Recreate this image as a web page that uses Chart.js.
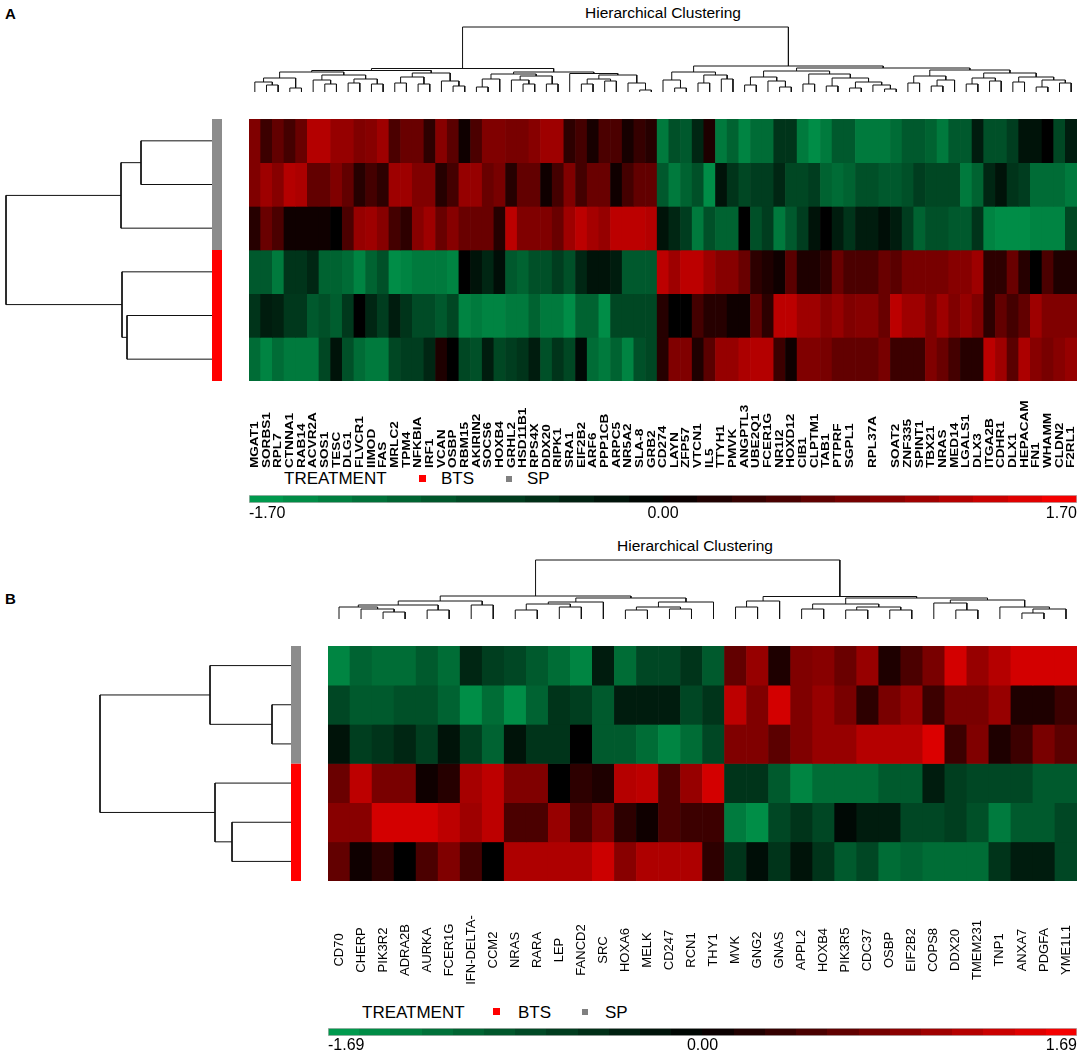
<!DOCTYPE html>
<html>
<head>
<meta charset="utf-8">
<title>Hierarchical Clustering</title>
<script src="https://cdn.jsdelivr.net/npm/chart.js@4.4.0/dist/chart.umd.min.js"></script>
<style>
    body { margin: 0; background: #fff; width: 1084px; height: 1057px; position: relative; overflow: hidden;
           font-family: "Liberation Sans", Arial, sans-serif; color: #000; }
    .box { position: absolute; }
    .txt { position: absolute; white-space: nowrap; line-height: 1; }
    .sq { position: absolute; }
</style>
</head>
<body>
<div class="txt" style="left:5px;top:6px;font-size:15px;font-weight:bold">A</div>
<div class="txt" style="left:663px;top:5px;font-size:15.5px;transform:translateX(-50%)">Hierarchical Clustering</div>
<div class="txt" style="left:284px;top:470px;font-size:17px">TREATMENT</div>
<div class="sq" style="left:419px;top:475px;width:7px;height:7px;background:#ff0000"></div>
<div class="txt" style="left:441px;top:470px;font-size:17px">BTS</div>
<div class="sq" style="left:506px;top:476px;width:6px;height:6px;background:#808080"></div>
<div class="txt" style="left:527px;top:470px;font-size:17px">SP</div>

<div class="txt" style="left:5px;top:591px;font-size:15px;font-weight:bold">B</div>
<div class="txt" style="left:695px;top:538px;font-size:15.5px;transform:translateX(-50%)">Hierarchical Clustering</div>
<div class="txt" style="left:362px;top:1004px;font-size:17px">TREATMENT</div>
<div class="sq" style="left:493px;top:1008px;width:7px;height:7px;background:#ff0000"></div>
<div class="txt" style="left:518px;top:1004px;font-size:17px">BTS</div>
<div class="sq" style="left:582px;top:1009px;width:6px;height:6px;background:#808080"></div>
<div class="txt" style="left:605px;top:1004px;font-size:17px">SP</div>

<script>
// ---------- panel A data ----------
const genesA = ['MGAT1', 'SORBS1', 'RPL7', 'CTNNA1', 'RAB14', 'ACVR2A', 'SOS1', 'TESC', 'DLG1', 'FLVCR1',
    'IIMOD', 'FAS', 'MRLC2', 'TPM4', 'NFKBIA', 'IRF1', 'VCAN', 'OSBP', 'RBM15', 'AKIRIN2',
    'SOCS6', 'HOXB4', 'GRHL2', 'HSD11B1', 'RPS4X', 'DDX20', 'RIPK1', 'SRA1', 'EIF2B2', 'ARF6',
    'PPP1CB', 'ARPC5', 'NR5A2', 'SLA-8', 'GRB2', 'CD274', 'LAYN', 'ZFP57', 'VTCN1', 'IL5',
    'TTYH1', 'PMVK', 'ANGPTL3', 'UBE2Q1', 'FCER1G', 'NR1I2', 'HOXD12', 'CIB1', 'CLPTM1', 'TAB1',
    'PTPRF', 'SGPL1', '', 'RPL37A', '', 'SOAT2', 'ZNF335', 'SPINT1', 'TBX21', 'NRAS',
    'MED14', 'LGALS1', 'DLX3', 'ITGA2B', 'CDHR1', 'DLX1', 'HEPACAM', 'FN1', 'WHAMM', 'CLDN2', 'F2RL1'];

const A_SP1 = [0.85, 0.4, 0.65, 0.45, 0.7, 1.2, 1.2, 1.0, 1.0, 0.85, 0.9, 1.05, 0.5, 0.7, 0.7, 0.3, 0.9, 0.6, 0.1, 0.5,
    0.85, 0.85, 0.8, 0.8, 0.9, 1.05, 1.05, 0.3, 0.45, 0.15, 0.5, 0.5, 0.15, 0.35, 0.25,
    -1.3, -0.85, -0.95, -0.4, 0.2, -1.3, -1.05, -1.4, -1.15, -1.15, -0.55, -0.55, -1.3, -1.5, -1.3, -0.95, -0.95, -1.3,
    -1.3, -1.3, -1.15, -0.95, -0.95, -1.05, -1.3, -0.95, -0.95, -0.3, -0.85, -0.85, -0.65, -0.2, -0.2, 0, -0.75, -0.3];
const A_SP2 = [0.85, 1.05, 0.9, 1.2, 1.15, 0.65, 0.65, 0.85, 0.65, 0.25, 0.45, 0.3, 1.05, 1.05, 0.85, 0.85, 0.25, 0.45, 1.0, 1.0,
    0.7, 0.8, 0.25, 0.65, 0.65, 0.1, 0.45, 0.85, 0.45, 0.7, 0.7, 0.1, 0.45, 0.65, 0.65,
    -0.95, -1.3, -1.05, -0.85, -1.5, -0.2, -0.55, -0.75, -0.65, -0.65, -0.4, -0.75, -0.75, -0.65, -1.05, -1.15, -1.05, -0.85,
    -0.85, -0.95, -0.95, -0.85, -0.65, -0.75, -0.75, -0.75, -1.3, -1.05, -0.4, -0.2, -0.55, -0.65, -1.15, -1.15, -1.15, -1.3];
const A_SP3 = [0.25, 0.7, 0.5, 0.1, 0.1, 0.1, 0.1, 0, 0.5, 1.0, 1.05, 0.9, 0.45, 0.3, 0.9, 1.05, 0.7, 0.9, 0.7, 0.7,
    0.7, 0.25, 1.25, 0.85, 0.85, 0.85, 0.7, 1.05, 1.25, 1.1, 1.0, 1.25, 1.25, 1.25, 1.2,
    -0.2, -0.4, -0.65, -1.3, -0.85, -1.05, -1.05, 0, -0.85, -0.65, -1.3, -0.95, -0.65, -0.2, 0, -0.3, -0.55, -0.3,
    -0.3, -0.15, -0.3, -0.65, -1.05, -0.85, -0.85, -0.95, -0.95, -0.55, -1.4, -1.5, -1.5, -1.5, -1.4, -1.4, -1.4, -0.75];
const A_BTS1 = [-0.95, -0.95, -1.3, -0.55, -0.55, -0.4, -1.05, -1.05, -1.15, -1.4, -1.05, -0.85, -1.5, -1.4, -1.3, -1.3, -1.3, -1.4, 0, -0.2,
    -0.4, -0.15, -0.95, -1.05, -0.85, -0.85, -0.65, -0.85, -0.4, -0.2, -0.2, -0.3, -0.95, -0.95, -0.95,
    1.25, 1.05, 1.25, 1.25, 1.05, 0.9, 0.9, 0.7, 0.3, 0.2, 0.1, 0.6, 0.2, 0.2, 0.3, 0.7, 0.5, 0.5,
    0.5, 0.7, 0.6, 0.8, 0.8, 0.8, 0.8, 0.9, 0.9, 1.05, 0.3, 0.3, 0.7, 0.25, 0, 0.5, 0.2, 0.2];
const A_BTS2 = [-0.55, -0.3, -0.35, -0.6, -0.6, -0.95, -0.85, -1.0, -0.6, 0, -0.4, -0.65, -0.3, -0.55, -0.8, -0.8, -0.95, -0.75, -1.4, -1.3,
    -1.4, -1.4, -1.3, -1.3, -1.05, -1.3, -1.3, -1.5, -1.05, -1.05, -1.5, -0.75, -0.75, -0.75, -0.75,
    0.25, 0, 0, 0.45, 0.25, 0.25, 0.1, 0.1, 0.65, 0.3, 1.25, 1.25, 1.05, 1.05, 0.9, 1.0, 0.85, 0.9,
    0.9, 0.7, 1.25, 1.05, 1.05, 0.85, 1.05, 0.85, 1.0, 0.85, 0.3, 0.65, 0.45, 0.65, 1.05, 0.85, 0.85, 0.85];
const A_BTS3 = [-1.15, -1.4, -1.15, -1.3, -1.3, -1.3, -0.75, -0.2, -0.85, -1.15, -1.3, -1.3, -0.75, -0.65, -0.65, -0.4, 0.2, 0, -0.75, -0.85,
    -0.3, -0.75, -0.65, -0.55, -0.3, -0.85, -0.55, -0.75, -0.1, -1.15, -1.3, -1.05, -1.4, -0.85, -0.75,
    0.25, 0.85, 0.85, 0.2, 0.6, 1.0, 1.0, 1.15, 1.2, 1.2, 0.4, 0.1, 0.85, 0.85, 0.8, 0.65, 0.65, 0.65,
    0.65, 0.8, 0.4, 0.4, 0.4, 0.85, 0.7, 0.45, 0.25, 0.25, 1.25, 1.05, 0.6, 1.15, 0.9, 0.8, 0.9, 1.0];

// dendrograms: [height, left, right], a number is a leaf index
const geneTreeA = [65,
    [23.5,
        [21.5,
            [20, [14, [10, 0, [7, 1, 2]], [4, 3, 4]], [17, [12, 5, [8, 6, 7]], [13, [9, 8, 9], [8, 10, 11]]]],
            [19, [15, [9, 12, 13], [8, 14, 15]], [11, 16, [6, 17, 18]]]],
        [20,
            [18, [13, [5, 19, 20], 21], [16, [12, 22, [8, 23, 24]], [8, 25, 26]]],
            [18.5, 27, [17, [13, [8, 28, 29], [11, 30, 31]], [9, 32, [2, 33, 34]]]]]],
    [26,
        [20, [12, 35, [4, 36, 37]], [17, [9, 38, 39], [13, 40, 41]]],
        [24,
            [21, [15, [7, 42, 43], [11, 44, [5, 45, 46]]],
                 [18, [8, 47, 48], [14, [6, 49, 50], [10, [4, 51, 52], [7, 53, [3, 54, 55]]]]]],
            [22, [16, [9, 56, 57], [12, [6, 58, 59], 60]],
                 [19, [14, [8, 61, 62], [11, 63, 64]], [15, [10, 65, 66], [12, [5, 67, 68], [9, 69, 70]]]]]]]];
const sampleTreeA = [206, [91, [71, 0, 1], 2], [90, 3, [85, 4, 5]]];
const ticksA = [-1.70, 0.00, 1.70];

// ---------- panel B data ----------
const genesB = ['CD70', 'CHERP', 'PIK3R2', 'ADRA2B', 'AURKA', 'FCER1G', 'IFN-DELTA-', 'CCM2', 'NRAS', 'RARA',
    'LEP', 'FANCD2', 'SRC', 'HOXA6', 'MELK', 'CD247', 'RCN1', 'THY1', 'MVK', 'GNG2',
    'GNAS', 'APPL2', 'HOXB4', 'PIK3R5', 'CDC37', 'OSBP', 'EIF2B2', 'COPS8', 'DDX20', 'TMEM231',
    'TNP1', 'ANXA7', 'PDGFA', 'YME1L1'];

const B_SP1 = [-1.4, -1.05, -1.15, -1.15, -0.95, -1.15, -0.4, -0.65, -0.75, -0.95, -1.15, -1.4, -0.3, -1.15, -0.75, -0.75, -0.55, -0.95,
    0.65, 1.0, 0.2, 0.85, 0.9, 0.7, 1.0, 0.2, 0.5, 0.8, 1.4, 1.0, 1.2, 1.4, 1.4, 1.4];
const B_SP2 = [-0.75, -0.95, -0.95, -0.85, -0.85, -1.05, -1.5, -1.15, -1.5, -1.05, -0.55, -0.65, -0.95, -0.3, -0.3, -0.3, -0.75, -0.55,
    1.25, 0.85, 1.4, 0.85, 1.0, 0.8, 0.3, 0.8, 1.0, 0.4, 0.8, 0.8, 1.0, 0.2, 0.2, 0.4];
const B_SP3 = [-0.2, -0.65, -0.55, -0.4, -0.65, -0.2, -0.65, -1.05, -0.2, -0.55, -0.55, 0, -0.95, -0.95, -1.15, -1.4, -1.15, -0.75,
    0.85, 0.85, 0.6, 0.85, 1.0, 1.0, 1.2, 1.2, 1.2, 1.45, 0.4, 0.85, 0.2, 0.4, 0.8, 0.6];
const B_BTS1 = [0.7, 1.25, 0.8, 0.8, 0.1, 0.25, 1.1, 1.25, 0.85, 0.85, 0, 0.3, 0.2, 1.2, 1.25, 0.5, 1.0, 1.4,
    -0.55, -0.55, -0.95, -1.4, -1.15, -1.15, -1.15, -0.95, -0.95, -0.3, -0.65, -0.75, -0.75, -0.75, -0.95, -0.95];
const B_BTS2 = [0.9, 0.9, 1.4, 1.4, 1.4, 1.25, 1.05, 1.25, 0.5, 0.5, 1.0, 0.5, 0.8, 0.3, 0.1, 0.5, 0.4, 0.4,
    -1.3, -1.5, -0.75, -0.55, -0.75, -0.1, -0.3, -0.3, -0.75, -0.75, -0.65, -0.85, -1.3, -0.95, -0.95, -0.75];
const B_BTS3 = [0.65, 0.1, 0.3, 0, 0.5, 0.85, 0.45, 0, 1.15, 1.15, 1.15, 1.15, 1.35, 0.9, 1.15, 1.15, 1.15, 0.3,
    -0.55, -0.15, -0.55, -0.2, -0.55, -0.95, -0.75, -1.15, -1.05, -1.15, -1.15, -1.15, -0.55, -0.3, -0.3, -0.75];

const geneTreeB = [59,
    [23,
        [18, [14, [12, 0, [10, 1, [7, 2, 3]]], [9, 4, 5]], [14, 6, 7]],
        [21, [17, [15, [9, 8, 9], [12, 10, 11]], 12], [17, [12, [9, 13, 14], [10, 15, 16]], 17]]],
    [22.5,
        [18, [12, 18, 19], 20],
        [21, [15, [10, 21, 22], [12, [9, 23, 24], [9, 25, 26]]],
             [19, [16, 27, [9, 28, 29]], [12, 30, [10, [6, 31, 32], 33]]]]]];
const sampleTreeB = [191, [81, 0, [19, 1, 2]], [76, 3, [59, 4, 5]]];
const ticksB = [-1.69, 0.00, 1.69];

const treatment = ['SP', 'SP', 'SP', 'BTS', 'BTS', 'BTS'];
const treatmentColor = { SP: '#8c8c8c', BTS: '#ff0000' };

// ---------- helpers ----------
Chart.defaults.font.family = '"Liberation Sans", Arial, sans-serif';
Chart.defaults.animation = false;

function cellColor(v, lim) {
    const t = Math.min(Math.abs(v) / lim, 1);
    return v >= 0 ? `rgb(${Math.round(255 * t)},0,0)` : `rgb(0,${Math.round(160 * t)},${Math.round(80 * t)})`;
}

// area = [left, top, width, height] of the plot area in page pixels
function place(area, pad) {
    const p = Object.assign({ left: 3, right: 3, top: 3, bottom: 3 }, pad);
    const div = document.createElement('div');
    div.className = 'box';
    div.style.left = (area[0] - p.left) + 'px';
    div.style.top = (area[1] - p.top) + 'px';
    div.style.width = (area[2] + p.left + p.right) + 'px';
    div.style.height = (area[3] + p.top + p.bottom) + 'px';
    const canvas = document.createElement('canvas');
    div.appendChild(canvas);
    document.body.appendChild(div);
    return { canvas, padding: p };
}

function treeSegments(tree) {
    const segs = [];
    const walk = (n) => {
        if (typeof n === 'number') return { pos: n, h: 0 };
        const a = walk(n[1]), b = walk(n[2]);
        segs.push([[a.pos, a.h], [a.pos, n[0]], [b.pos, n[0]], [b.pos, b.h]]);
        return { pos: (a.pos + b.pos) / 2, h: n[0] };
    };
    walk(tree);
    return segs;
}

function lineSet(points, color, width) {
    return {
        data: points.map(p => ({ x: p[0], y: p[1] })),
        showLine: true, borderColor: color, borderWidth: width, pointRadius: 0,
        borderCapStyle: 'butt', tension: 0, clip: false
    };
}

function baseOptions(padding, scales) {
    return {
        responsive: true, maintainAspectRatio: false, events: [],
        layout: { padding },
        plugins: { legend: { display: false }, tooltip: { enabled: false } },
        scales
    };
}

function geneDendrogram(area, tree, n, top) {
    const { canvas, padding } = place(area, { left: 2, right: 2, top: 3, bottom: 1 });
    new Chart(canvas, {
        type: 'scatter',
        data: { datasets: treeSegments(tree).map(s => lineSet(s, '#111', 1)) },
        options: baseOptions(padding, {
            x: { type: 'linear', min: -0.5, max: n - 0.5, display: false },
            y: { type: 'linear', min: 0, max: top, display: false }
        })
    });
}

function sampleDendrogram(area, tree, top) {
    const { canvas, padding } = place(area, { left: 3, right: 1, top: 2, bottom: 2 });
    // tree lines use {x: height, y: row}, so flip the points
    const sets = treeSegments(tree).map(s => lineSet(s.map(p => [p[1], p[0]]), '#111', 1));
    // one bar segment per run of rows with the same treatment
    let start = 0;
    treatment.forEach((g, i) => {
        if (i === treatment.length - 1 || treatment[i + 1] !== g) {
            sets.push(lineSet([[-5, start - 0.5], [-5, i + 0.5]], treatmentColor[g], 10));
            start = i + 1;
        }
    });
    new Chart(canvas, {
        type: 'scatter',
        data: { datasets: sets },
        options: baseOptions(padding, {
            x: { type: 'linear', min: -10, max: top, reverse: true, display: false },
            y: { type: 'linear', min: -0.5, max: 5.5, reverse: true, display: false }
        })
    });
}

const columnLabels = {
    id: 'columnLabels',
    afterDraw(chart, args, opts) {
        const { ctx, chartArea } = chart;
        const x = chart.scales.x;
        ctx.save();
        ctx.font = opts.font;
        ctx.fillStyle = '#000';
        ctx.textAlign = opts.align;
        ctx.textBaseline = 'middle';
        chart.data.labels.forEach((lab, i) => {
            ctx.save();
            ctx.translate(x.getPixelForValue(i), chartArea.bottom + opts.offset);
            ctx.rotate(-Math.PI / 2);
            ctx.scale(opts.stretch || 1, 1);
            ctx.fillText(lab, 0, 0);
            ctx.restore();
        });
        ctx.restore();
    }
};

function heatmap(area, genes, rows, lim, labelOpts, padBottom) {
    const { canvas, padding } = place(area, { left: 0, right: 0, top: 0, bottom: padBottom });
    new Chart(canvas, {
        type: 'bar',
        data: {
            labels: genes,
            datasets: rows.map((vals, r) => ({
                data: vals.map(() => [r, r + 1]),
                backgroundColor: vals.map(v => cellColor(v, lim)),
                borderWidth: 0, barPercentage: 1, categoryPercentage: 1, grouped: false
            }))
        },
        options: Object.assign(baseOptions(padding, {
            x: { type: 'category', display: false },
            y: { type: 'linear', min: 0, max: rows.length, reverse: true, display: false }
        }), { plugins: { legend: { display: false }, tooltip: { enabled: false }, columnLabels: labelOpts } }),
        plugins: [columnLabels]
    });
}

const colorbarTicks = {
    id: 'colorbarTicks',
    afterDraw(chart, args, opts) {
        const { ctx, chartArea } = chart;
        const x = chart.scales.x;
        ctx.save();
        ctx.font = '16px "Liberation Sans", Arial, sans-serif';
        ctx.fillStyle = '#000';
        ctx.textBaseline = 'middle';
        opts.ticks.forEach((t, i) => {
            ctx.textAlign = i === 0 ? 'left' : (i === opts.ticks.length - 1 ? 'right' : 'center');
            ctx.fillText(t.toFixed(2), x.getPixelForValue(t), chartArea.bottom + opts.offset);
        });
        ctx.restore();
    }
};

function colorbar(area, ticks, offset) {
    const lim = ticks[ticks.length - 1];
    const { canvas, padding } = place(area, { left: 4, right: 4, top: 2, bottom: 24 });
    const fill = (c) => {
        const chart = c.chart, x = chart.scales.x;
        if (!chart.chartArea || !x) return '#000';
        const g = chart.ctx.createLinearGradient(x.getPixelForValue(-lim), 0, x.getPixelForValue(lim), 0);
        const steps = 24;
        for (let k = 0; k < steps; k++) {
            const col = cellColor(-lim + (k + 0.5) * 2 * lim / steps, lim);
            g.addColorStop(k / steps, col);
            g.addColorStop((k + 1) / steps, col);
        }
        return g;
    };
    new Chart(canvas, {
        type: 'bar',
        data: {
            labels: [''],
            datasets: [{ data: [[-lim, lim]], backgroundColor: fill, borderColor: '#b8b8b8', borderWidth: 1,
                borderSkipped: false, barPercentage: 1, categoryPercentage: 1 }]
        },
        options: Object.assign(baseOptions(padding, {
            x: { type: 'linear', min: -lim, max: lim, display: false },
            y: { type: 'category', display: false }
        }), {
            indexAxis: 'y',
            plugins: { legend: { display: false }, tooltip: { enabled: false }, colorbarTicks: { ticks, offset } }
        }),
        plugins: [colorbarTicks]
    });
}

// ---------- panel A ----------
geneDendrogram([249, 27, 828, 65], geneTreeA, genesA.length, 65);
sampleDendrogram([6, 119, 216, 262], sampleTreeA, 206);
heatmap([249, 119, 828, 262], genesA, [A_SP1, A_SP2, A_SP3, A_BTS1, A_BTS2, A_BTS3], 1.70,
    { font: 'bold 11.5px "Liberation Sans", Arial, sans-serif', align: 'left', offset: 87, stretch: 1.18 }, 92);
colorbar([249, 495, 828, 8], ticksA, 11);

// ---------- panel B ----------
geneDendrogram([328, 560, 749, 59], geneTreeB, genesB.length, 59);
sampleDendrogram([100, 646, 201, 235], sampleTreeB, 191);
heatmap([328, 646, 749, 235], genesB, [B_SP1, B_SP2, B_SP3, B_BTS1, B_BTS2, B_BTS3], 1.69,
    { font: '13px "Liberation Sans", Arial, sans-serif', align: 'center', offset: 69 }, 115);
colorbar([328, 1028, 749, 8], ticksB, 10);
</script>
</body>
</html>
